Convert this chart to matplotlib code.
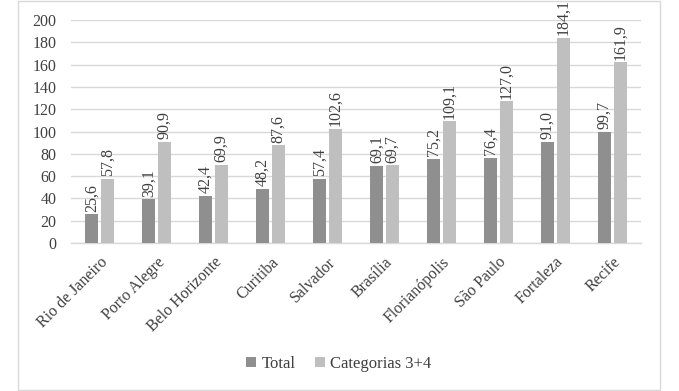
import numpy as np
import matplotlib
matplotlib.use('Agg')
import matplotlib.pyplot as plt
from matplotlib.patches import Rectangle

# Dados
cidades = ['Rio de Janeiro', 'Porto Alegre', 'Belo Horizonte', 'Curitiba', 'Salvador',
           'Brasília', 'Florianópolis', 'São Paulo', 'Fortaleza', 'Recife']
total = [25.6, 39.1, 42.4, 48.2, 57.4, 69.1, 75.2, 76.4, 91.0, 99.7]
cat34 = [57.8, 90.9, 69.9, 87.6, 102.6, 69.7, 109.1, 127.0, 184.1, 161.9]
y_ticks = [0, 20, 40, 60, 80, 100, 120, 140, 160, 180, 200]

plt.rcParams['font.family'] = ['Liberation Serif', 'DejaVu Serif']
TXT = '#404040'
COR_TOTAL = '#8f8f8f'
COR_CAT = '#bfbfbf'
FS = 11.5

fig = plt.figure(figsize=(6.79, 3.91), dpi=100)
ax = fig.add_axes([71 / 679, 148 / 391, 570 / 679, 223 / 391])

# moldura do gráfico
fig.patches.append(Rectangle((18 / 679, 1 / 391), 642 / 679, 389 / 391,
                             transform=fig.transFigure, fill=False,
                             edgecolor='#d9d9d9', linewidth=1))

x = np.arange(len(cidades))
w = 0.23
b1 = ax.bar(x - 0.14, total, w, color=COR_TOTAL, label='Total', zorder=3)
b2 = ax.bar(x + 0.14, cat34, w, color=COR_CAT, label='Categorias 3+4', zorder=3)

def fmt(v):
    return f'{v:.1f}'.replace('.', ',')

for bars, vals in [(b1, total), (b2, cat34)]:
    for r, v in zip(bars, vals):
        ax.annotate(fmt(v), (r.get_x() + r.get_width() / 2, v),
                    xytext=(0, 2), textcoords='offset points',
                    rotation=90, ha='center', va='bottom',
                    fontsize=FS, color=TXT, annotation_clip=False)

ax.set_xlim(-0.5, len(cidades) - 0.5)
ax.set_ylim(0, 200)
ax.set_yticks(y_ticks)
ax.set_yticklabels([str(t) for t in y_ticks], fontsize=FS, color=TXT)
ax.yaxis.grid(True, color='#d9d9d9', linewidth=1, zorder=0)
ax.set_axisbelow(True)

ax.set_xticks(x)
ax.set_xticklabels(cidades, rotation=45, ha='right', va='top',
                   rotation_mode='anchor', fontsize=FS, color=TXT)
ax.tick_params(axis='both', length=0)
ax.tick_params(axis='y', pad=10.5)
ax.tick_params(axis='x', pad=8)

for s in ['top', 'right', 'left']:
    ax.spines[s].set_visible(False)
ax.spines['bottom'].set_color('#d9d9d9')
ax.spines['bottom'].set_linewidth(1)

fig.legend(loc='center', bbox_to_anchor=(339 / 679, 1 - 364 / 391),
           ncol=2, frameon=False, fontsize=12, labelcolor=TXT,
           handlelength=0.6, handleheight=0.6, handletextpad=0.3,
           columnspacing=1.2)

fig.savefig('out.png', dpi=100)
